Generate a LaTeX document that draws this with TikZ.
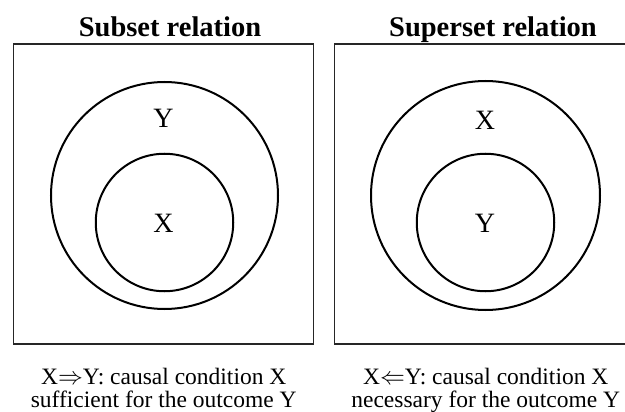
\documentclass[tikz,border=0pt]{standalone}
\usepackage{fontspec}
\setmainfont{Liberation Serif}
\usetikzlibrary{positioning}
\begin{document}
\begin{tikzpicture}[x=1pt,y=-1pt,
    fr/.style={draw=black!85,line width=1.4pt,minimum width=300pt,minimum height=300pt,inner sep=0pt},
    ring/.style={draw,circle,line width=2pt,inner sep=0pt},
    lb/.style={font=\fontsize{28}{30}\selectfont,inner sep=0pt},
    ttl/.style={font=\fontsize{28.5}{30}\selectfont\bfseries,inner sep=0pt,anchor=base},
    cpt/.style={font=\fontsize{23.5}{23}\selectfont,align=center,inner sep=0pt,anchor=north}]
  \clip (0,0) rectangle (625,412);
  % subset
  \node[fr] (bl) at (163.75,194) {};
  \node[ring,minimum size=227pt] (ol) at (164.5,195.5) {};
  \node[ring,minimum size=137.5pt] (il) at (164.5,222.5) {};
  \node[lb] (yl) at (163.5,118) {Y};
  \node[lb] (xl) at (163.5,223) {X};
  \node[ttl] (tl) at (170,36.5) {Subset relation};
  \node[cpt,below=23pt of bl.south] (cl) {X$\Rightarrow$Y: causal condition X\\sufficient for the outcome Y};
  % superset
  \node[fr] (br) at (484.25,194) {};
  \node[ring,minimum size=229pt] (or) at (485.5,195.5) {};
  \node[ring,minimum size=137.5pt] (ir) at (485.5,222.5) {};
  \node[lb] (xr) at (485,120) {X};
  \node[lb] (yr) at (485,223) {Y};
  \node[ttl] (tr) at (493,36.5) {Superset relation};
  \node[cpt,below=23pt of br.south,xshift=1.5pt] (cr) {X$\Leftarrow$Y: causal condition X\\necessary for the outcome Y};
\end{tikzpicture}
\end{document}
